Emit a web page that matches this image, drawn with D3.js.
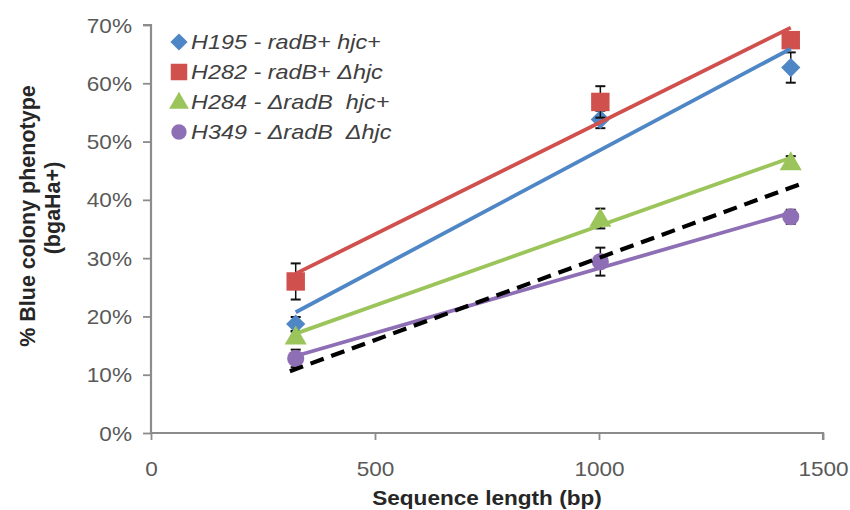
<!DOCTYPE html>
<html>
<head>
<meta charset="utf-8">
<script src="https://cdn.jsdelivr.net/npm/d3@7"></script>
<style>
  body { margin: 0; background: #fff; }
  svg { display: block; }
  text { font-family: "Liberation Sans", Arial, sans-serif; }
</style>
</head>
<body>
<svg id="chart" width="850" height="510"></svg>
<script>
// ---- data ----
const seqLength = [323, 1003, 1428];
const seriesNames = ["H195", "H282", "H284", "H349"];
const seriesGenotype = [
  ["radB+ ", "hjc+"],
  ["radB+ ", "\u0394hjc"],
  ["\u0394radB  ", "hjc+"],
  ["\u0394radB  ", "\u0394hjc"]
];
const h195 = [0.187, 0.538, 0.627];
const h282 = [0.260, 0.568, 0.674];
const h284 = [0.166, 0.368, 0.465];
const h349 = [0.128, 0.294, 0.371];
const err195 = [0.012, 0.015, 0.026];
const err282 = [0.031, 0.027, 0.010];
const err284 = [0.008, 0.017, 0.010];
const err349 = [0.015, 0.024, 0.012];
const expectedX = [310, 1460];
const expectedY = [0.106, 0.430];
const xTicks = [0, 500, 1000, 1500];
const yTicks = [0, 0.1, 0.2, 0.3, 0.4, 0.5, 0.6, 0.7];

const colors = ["#4F86C6", "#D0504D", "#9BC55A", "#8E6FB5"];
const shapes = [d3.symbolSquare, d3.symbolSquare, d3.symbolTriangle, d3.symbolCircle];
const rotations = [45, 0, 0, 0];
const shapeSizes = [185, 340, 210, 230];
const values = [h195, h282, h284, h349];
const errors = [err195, err282, err284, err349];

const svg = d3.select("#chart");
const x = d3.scaleLinear().domain([0, 1500]).range([151, 823]);
const y = d3.scaleLinear().domain([0, 0.7]).range([433, 25]);
const SX = 1.13;
const axisColor = "#8c8c8c";
const labelColor = "#595959";

// axes
const yAxis = svg.append("g").attr("transform", `translate(${x(0)},0)`)
  .call(d3.axisLeft(y).tickValues(yTicks).tickSize(8).tickFormat(d3.format(".0%")));
const xAxis = svg.append("g").attr("transform", `translate(0,${y(0)})`)
  .call(d3.axisBottom(x).tickValues(xTicks).tickSize(7).tickFormat(d3.format("d")));
[yAxis, xAxis].forEach(g => {
  g.select(".domain").attr("stroke", axisColor).attr("stroke-width", 2.2);
  g.selectAll(".tick line").attr("stroke", axisColor).attr("stroke-width", 1.8);
  g.selectAll(".tick text").attr("fill", labelColor).attr("font-size", 20);
});
yAxis.selectAll(".tick text").each(function () {
  d3.select(this).attr("x", null).attr("dy", "0.35em").attr("text-anchor", "end")
    .attr("transform", `translate(-19,0) scale(${SX},1)`);
});
xAxis.selectAll(".tick text").each(function () {
  d3.select(this).attr("y", null).attr("dy", null).attr("text-anchor", "middle")
    .attr("transform", `translate(0,43) scale(${SX},1)`);
});
yAxis.select(".domain").attr("d", `M-8,${y(0.7)}H0V${y(0)}`);
xAxis.select(".domain").attr("d", `M${x(0)},0H${x(1500)}V7`);

// axis titles
svg.append("text")
  .attr("transform", `translate(${(x(0) + x(1500)) / 2},505) scale(${SX},1)`)
  .attr("text-anchor", "middle").attr("font-weight", "bold").attr("font-size", 20)
  .attr("fill", "#262626").text("Sequence length (bp)");
svg.append("text")
  .attr("transform", `translate(35,216) rotate(-90)`)
  .attr("text-anchor", "middle").attr("font-weight", "bold").attr("font-size", 21.5)
  .attr("fill", "#262626").text("% Blue colony phenotype");
svg.append("text")
  .attr("transform", `translate(60,208) rotate(-90)`)
  .attr("text-anchor", "middle").attr("font-weight", "bold").attr("font-size", 21.5)
  .attr("fill", "#262626").text("(bgaHa+)");

// markers and error bars
values.forEach((vals, si) => {
  const g = svg.append("g");
  vals.forEach((v, i) => {
    const e = errors[si][i];
    const cx = x(seqLength[i]);
    g.append("line").attr("x1", cx).attr("x2", cx).attr("y1", y(v + e)).attr("y2", y(v - e))
      .attr("stroke", "#111").attr("stroke-width", 1.5);
    [v + e, v - e].forEach(w => g.append("line")
      .attr("x1", cx - 5).attr("x2", cx + 5).attr("y1", y(w)).attr("y2", y(w))
      .attr("stroke", "#111").attr("stroke-width", 2));
  });
  g.selectAll("path.m").data(vals).join("path").attr("class", "m")
    .attr("d", d3.symbol().type(shapes[si]).size(shapeSizes[si]))
    .attr("transform", (d, i) => `translate(${x(seqLength[i])},${y(d) + (si === 2 ? 2 : 0)}) rotate(${rotations[si]})`)
    .attr("fill", colors[si]);
});

// linear trendlines (least squares over the data)
values.forEach((vals, si) => {
  const mx = d3.mean(seqLength), my = d3.mean(vals);
  const sxy = d3.sum(seqLength, (s, i) => (s - mx) * (vals[i] - my));
  const sxx = d3.sum(seqLength, s => (s - mx) ** 2);
  const b = sxy / sxx, a = my - b * mx;
  const x0 = seqLength[0], x1 = seqLength[seqLength.length - 1];
  svg.append("line")
    .attr("x1", x(x0)).attr("y1", y(a + b * x0))
    .attr("x2", x(x1)).attr("y2", y(a + b * x1))
    .attr("stroke", colors[si]).attr("stroke-width", 3.8);
});

// expected dashed line
svg.append("path")
  .datum(expectedX.map((d, i) => [d, expectedY[i]]))
  .attr("d", d3.line().x(d => x(d[0])).y(d => y(d[1])))
  .attr("fill", "none").attr("stroke", "#000").attr("stroke-width", 4.2)
  .attr("stroke-dasharray", "14,8");

// legend
const legend = svg.append("g");
seriesNames.forEach((name, i) => {
  const ly = 42 + i * 30;
  legend.append("path")
    .attr("d", d3.symbol().type(shapes[i]).size(shapeSizes[i] * 0.8))
    .attr("transform", `translate(179,${ly + (i === 2 ? 1 : 0)}) rotate(${rotations[i]})`)
    .attr("fill", colors[i]);
  const t = legend.append("text")
    .attr("transform", `translate(191,${ly}) scale(1.17,1)`)
    .attr("dy", "0.36em").attr("font-size", 20).attr("font-style", "italic")
    .attr("fill", "#404040").attr("xml:space", "preserve")
    .style("white-space", "pre");
  t.append("tspan").text(name + " - " + seriesGenotype[i][0]);
  t.append("tspan").text(seriesGenotype[i][1]);
});
</script>
</body>
</html>
